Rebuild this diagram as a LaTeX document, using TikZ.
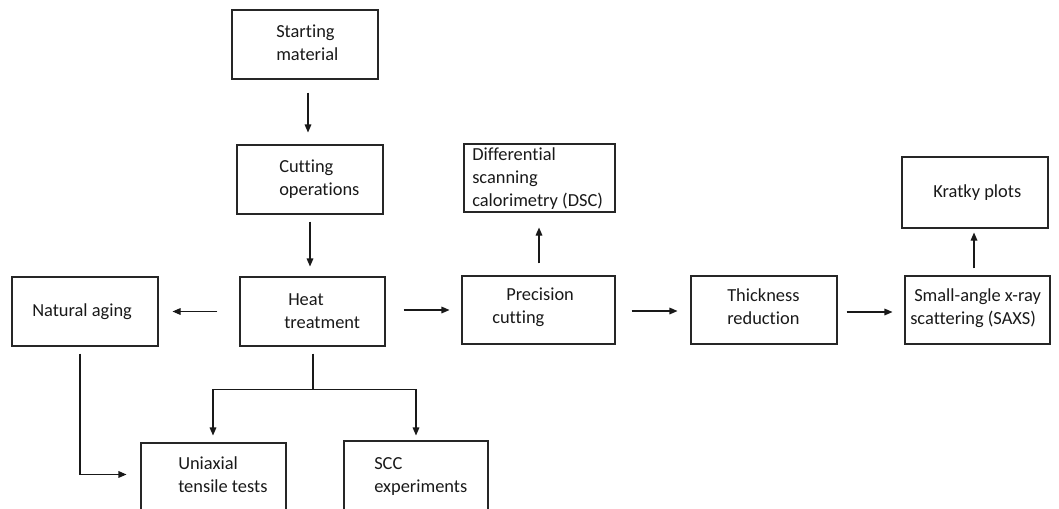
\documentclass[tikz,border=0pt]{standalone}
\usepackage{fontspec}
\setmainfont{Carlito}[Ligatures={NoCommon}]
\usetikzlibrary{arrows.meta,calc,fit}

% first-line strut so every text block hangs from a fixed baseline
\newcommand{\fl}{\rule{0pt}{12pt}}

\begin{document}
\begin{tikzpicture}[
  x=0.75pt, y=-0.75pt,
  box/.style={draw=black!85, line width=0.8pt, inner sep=0pt},
  txt/.style={anchor=north west, inner sep=0pt, align=left, text=black!90,
              font=\fontsize{13.8}{17.4}\selectfont},
  line/.style={draw=black!90, line width=0.8pt},
  arr/.style={line, -{Triangle[length=6pt,width=5pt]}}
]
\useasboundingbox (0,0) rectangle (1059,508);
\clip (0,0) rectangle (1059,508);

% boxes
\node[box, fit={(232,10)(378,79)}]    (start) {};
\node[box, fit={(237,145)(383,214)}]  (cut)   {};
\node[box, fit={(240,277)(385,346)}]  (ht)    {};
\node[box, fit={(12,277)(158,346)}]   (na)    {};
\node[box, fit={(462,276)(615,344)}]  (pc)    {};
\node[box, fit={(464,144)(615,212)}]  (dsc)   {};
\node[box, fit={(691,276)(837,344)}]  (tr)    {};
\node[box, fit={(905,276)(1050,344)}] (saxs)  {};
\node[box, fit={(902,157)(1048,228)}] (kr)    {};
\node[box, fit={(141,443)(286,530)}]  (uni)   {};
\node[box, fit={(344,441)(488,530)}]  (scc)   {};

% labels (left edge of text, first baseline minus 16)
\node[txt] (t-start) at (276,21)  {\fl Starting\\material};
\node[txt] (t-cut)   at (279,156) {\fl Cutting\\operations};
\node[txt] (t-ht)    at (284,289) {\fl\hspace*{3pt}Heat\\treatment};
\node[txt] (t-na)    at (32,300)  {\fl Natural aging};
\node[txt] (t-dsc)   at (472,144) {\fl Differential\\scanning\\calorimetry (DSC)};
\node[txt] (t-pc)    at (492,284) {\fl\hspace*{10.5pt}Precision\\cutting};
\node[txt] (t-tr)    at (727,285) {\fl Thickness\\reduction};
\node[txt] (t-saxs)  at (910,285) {\fl\hspace*{3pt}Small-angle x-ray\\scattering (SAXS)};
\node[txt] (t-kr)    at (933,181) {\fl Kratky plots};
\node[txt] (t-uni)   at (178,453) {\fl Uniaxial\\tensile tests};
\node[txt] (t-scc)   at (374,453) {\fl SCC\\experiments};

% connectors
\draw[arr] ($(start.south)+(3,13)$) -- ($(cut.north)+(-2,-12)$);
\draw[arr] ($(cut.south)+(0,7)$) -- ($(ht.north)+(-2.5,-10)$);
\draw[arr] ($(ht.west)+(-22,0)$) -- ($(na.east)+(14,0)$);
\draw[arr] ($(ht.east)+(18,-1.5)$) -- ($(pc.west)+(-12,0)$);
\draw[arr] ($(pc.north)+(0.5,-12)$) -- ($(dsc.south)+(-0.5,15)$);
\draw[arr] ($(pc.east)+(16,1)$) -- ($(tr.west)+(-13,1)$);
\draw[arr] ($(tr.east)+(9,2)$) -- ($(saxs.west)+(-12,2)$);
\draw[arr] ($(saxs.north)+(-3.5,-7)$) -- ($(kr.south)+(-1,4)$);

% heat treatment branches to the test boxes
\coordinate (jn) at ($(ht.south)+(0.5,43)$);
\draw[line] ($(ht.south)+(0.5,7)$) -- (jn);
\draw[arr] (jn) -| ($(uni.north)+(-0.5,-7)$);
\draw[arr] (jn) -| ($(scc.north)+(0,-5)$);

% natural aging feeds the tensile tests
\draw[arr] ($(na.south)+(-5,7)$) |- ($(uni.north west)+(-14,32)$);
\end{tikzpicture}
\end{document}
